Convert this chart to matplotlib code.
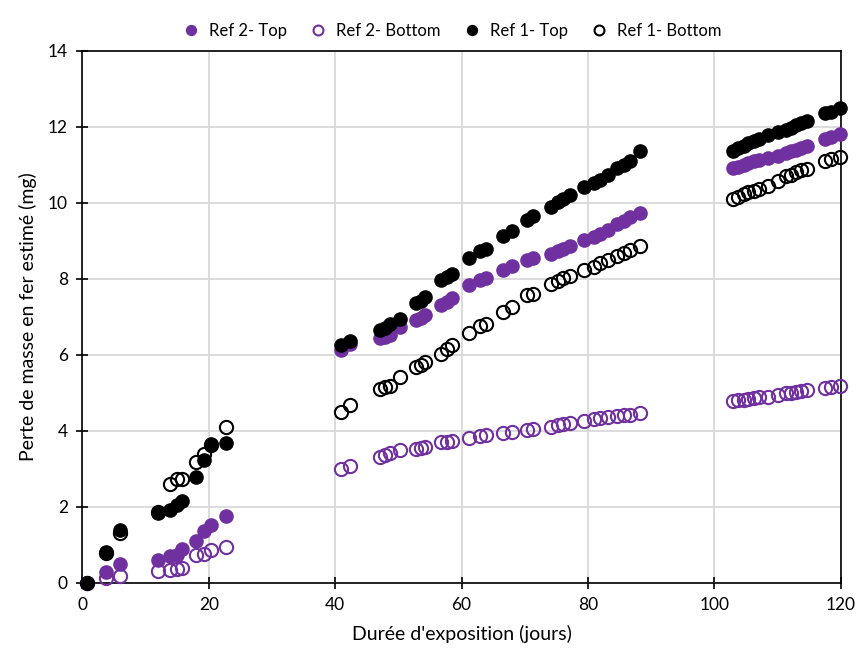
import matplotlib
matplotlib.use("Agg")
import matplotlib.pyplot as plt

plt.rcParams['font.family'] = ['Lato', 'DejaVu Sans']

PURPLE = '#7030A0'

# exposure days (shared by all four series)
days = [0.8, 3.8, 5.9, 12.0, 13.9, 14.9, 15.7, 17.9, 19.3, 20.4, 22.7,
        40.9, 42.3, 47.1, 47.9, 48.6, 50.2, 52.8, 53.5, 54.2, 56.8, 57.7, 58.5,
        61.1, 62.9, 63.8, 66.6, 68.0, 70.4, 71.3, 74.1, 75.2, 76.0, 77.2, 79.3,
        80.9, 81.9, 83.1, 84.6, 85.7, 86.6, 88.3,
        103.0, 103.8, 104.6, 105.3, 106.3, 107.1, 108.5, 110.0, 111.3, 112.1,
        112.9, 113.7, 114.6, 117.5, 118.4, 119.8]

ref2_top = [0.0, 0.27, 0.50, 0.60, 0.71, 0.72, 0.88, 1.09, 1.35, 1.52, 1.76,
            6.12, 6.28, 6.43, 6.47, 6.51, 6.72, 6.91, 6.96, 7.04, 7.32, 7.39, 7.49,
            7.83, 7.96, 8.03, 8.22, 8.33, 8.50, 8.55, 8.66, 8.73, 8.79, 8.85, 9.01,
            9.10, 9.18, 9.27, 9.43, 9.53, 9.62, 9.74,
            10.92, 10.95, 11.00, 11.03, 11.09, 11.12, 11.18, 11.24, 11.30, 11.35,
            11.39, 11.43, 11.50, 11.68, 11.72, 11.81]

ref2_bottom = [0.0, 0.12, 0.18, 0.30, 0.34, 0.36, 0.39, 0.72, 0.76, 0.87, 0.95,
               3.00, 3.06, 3.32, 3.36, 3.41, 3.48, 3.52, 3.54, 3.56, 3.69, 3.71, 3.74,
               3.80, 3.87, 3.89, 3.95, 3.97, 4.02, 4.05, 4.11, 4.15, 4.18, 4.20, 4.26,
               4.30, 4.33, 4.36, 4.39, 4.41, 4.42, 4.47,
               4.78, 4.80, 4.82, 4.84, 4.86, 4.88, 4.88, 4.94, 5.00, 5.00,
               5.02, 5.04, 5.07, 5.13, 5.16, 5.18]

ref1_top = [0.0, 0.80, 1.39, 1.83, 1.92, 2.05, 2.14, 2.79, 3.23, 3.64, 3.67,
            6.25, 6.36, 6.65, 6.70, 6.80, 6.93, 7.35, 7.42, 7.52, 7.96, 8.05, 8.12,
            8.55, 8.73, 8.77, 9.11, 9.25, 9.55, 9.64, 9.89, 10.02, 10.10, 10.19, 10.41,
            10.52, 10.60, 10.72, 10.90, 11.00, 11.10, 11.35,
            11.35, 11.44, 11.50, 11.56, 11.62, 11.68, 11.77, 11.85, 11.92, 11.97,
            12.03, 12.09, 12.14, 12.35, 12.38, 12.49]

ref1_bottom = [0.0, 0.78, 1.30, 1.85, 2.60, 2.72, 2.72, 3.17, 3.38, 3.62, 4.11,
               4.50, 4.68, 5.10, 5.14, 5.17, 5.40, 5.68, 5.73, 5.81, 6.01, 6.15, 6.25,
               6.57, 6.75, 6.80, 7.13, 7.26, 7.56, 7.59, 7.87, 7.94, 8.03, 8.06, 8.24,
               8.31, 8.40, 8.48, 8.59, 8.68, 8.76, 8.85,
               10.10, 10.16, 10.22, 10.27, 10.30, 10.37, 10.45, 10.58, 10.69, 10.74,
               10.80, 10.85, 10.89, 11.09, 11.15, 11.21]

fig = plt.figure(figsize=(8.58, 6.57), dpi=100)
ax = fig.add_axes([0.096, 0.113, 0.884, 0.810])

ms = 9.5
ax.plot(days, ref2_top, 'o', ms=ms, color=PURPLE, label='Ref 2- Top', clip_on=False, zorder=3)
ax.plot(days, ref2_bottom, 'o', ms=ms, mfc='none', mec=PURPLE, mew=1.5,
        label='Ref 2- Bottom', clip_on=False, zorder=3)
ax.plot(days, ref1_top, 'o', ms=ms, color='black', label='Ref 1- Top', clip_on=False, zorder=3)
ax.plot(days, ref1_bottom, 'o', ms=ms, mfc='none', mec='black', mew=1.5,
        label='Ref 1- Bottom', clip_on=False, zorder=3)

ax.set_xlim(0, 120)
ax.set_ylim(0, 14)
ax.set_xticks(range(0, 121, 20))
ax.set_yticks(range(0, 15, 2))
ax.grid(True, color='#D9D9D9', linewidth=1.3)
ax.set_axisbelow(True)
for s in ax.spines.values():
    s.set_color('black')
    s.set_linewidth(1.2)
ax.tick_params(direction='inout', length=9, width=1.2, labelsize=12.5, pad=6, colors='black')

ax.set_xlabel("Durée d'exposition (jours)", fontsize=14, labelpad=8)
ax.set_ylabel('Perte de masse en fer estimé (mg)', fontsize=14, labelpad=8)

ax.legend(loc='lower center', bbox_to_anchor=(0.482, 1.0), ncol=4, frameon=False,
          fontsize=12, handletextpad=0.05, columnspacing=0.9, markerscale=0.75,
          borderaxespad=0.3)

fig.savefig('out.png', dpi=100)
